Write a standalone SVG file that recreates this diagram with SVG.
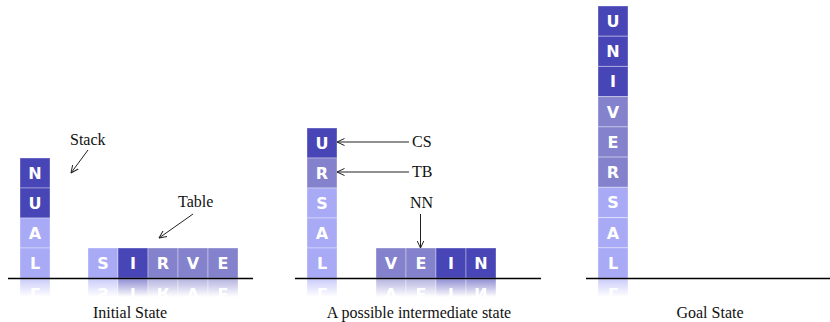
<svg xmlns="http://www.w3.org/2000/svg" xmlns:xlink="http://www.w3.org/1999/xlink" width="830" height="322" viewBox="0 0 830 322">
<style>
.d{fill:#4845b6}
.m{fill:#8482cc}
.l{fill:#a8aaf6}
.c{stroke:#ffffff;stroke-opacity:0.35;stroke-width:1}
.t{font-family:"DejaVu Sans",Verdana,sans-serif;font-weight:bold;font-size:16px;fill:#ffffff;text-anchor:middle}
.lbl{font-family:"Liberation Serif","Times New Roman",serif;font-size:16px;fill:#111111}
.mid{text-anchor:middle}
.base{stroke:#000000;stroke-width:1.6}
.arr{stroke:#222222;stroke-width:1;fill:none;marker-end:url(#ah)}
</style>
<defs>
<marker id="ah" viewBox="0 0 8 8" refX="7.5" refY="4" markerWidth="8" markerHeight="8" markerUnits="userSpaceOnUse" orient="auto">
<path d="M0,0.5 L7.5,4 L0,7.5" fill="none" stroke="#222222" stroke-width="1"/>
</marker>
<linearGradient id="fg" x1="0" y1="0" x2="0" y2="1">
<stop offset="0" stop-color="#ffffff" stop-opacity="0.6"/>
<stop offset="1" stop-color="#ffffff" stop-opacity="0"/>
</linearGradient>
<mask id="fade" maskUnits="userSpaceOnUse" x="0" y="278" width="830" height="22">
<rect x="0" y="279" width="830" height="18" fill="url(#fg)"/>
</mask>
</defs>

<g id="initial-stack">
<g id="i-N"><rect class="d c" x="20" y="158" width="30" height="30"/><text class="t" x="35" y="179">N</text></g>
<g id="i-U"><rect class="d c" x="20" y="188" width="30" height="30"/><text class="t" x="35" y="209">U</text></g>
<g id="i-A"><rect class="l c" x="20" y="218" width="30" height="30"/><text class="t" x="35" y="239">A</text></g>
<g id="i-L"><rect class="l c" x="20" y="248" width="30" height="30"/><text class="t" x="35" y="269">L</text></g>
</g>
<g id="initial-table">
<g id="i-S"><rect class="l c" x="88" y="248" width="30" height="30"/><text class="t" x="103" y="269">S</text></g>
<g id="i-I"><rect class="d c" x="118" y="248" width="30" height="30"/><text class="t" x="133" y="269">I</text></g>
<g id="i-R"><rect class="m c" x="148" y="248" width="30" height="30"/><text class="t" x="163" y="269">R</text></g>
<g id="i-V"><rect class="m c" x="178" y="248" width="30" height="30"/><text class="t" x="193" y="269">V</text></g>
<g id="i-E"><rect class="m c" x="208" y="248" width="30" height="30"/><text class="t" x="223" y="269">E</text></g>
</g>

<g id="mid-stack">
<g id="m-U"><rect class="d c" x="307" y="128" width="30" height="30"/><text class="t" x="322" y="149">U</text></g>
<g id="m-R"><rect class="m c" x="307" y="158" width="30" height="30"/><text class="t" x="322" y="179">R</text></g>
<g id="m-S"><rect class="l c" x="307" y="188" width="30" height="30"/><text class="t" x="322" y="209">S</text></g>
<g id="m-A"><rect class="l c" x="307" y="218" width="30" height="30"/><text class="t" x="322" y="239">A</text></g>
<g id="m-L"><rect class="l c" x="307" y="248" width="30" height="30"/><text class="t" x="322" y="269">L</text></g>
</g>
<g id="mid-table">
<g id="m-V"><rect class="m c" x="376" y="248" width="30" height="30"/><text class="t" x="391" y="269">V</text></g>
<g id="m-E"><rect class="m c" x="406" y="248" width="30" height="30"/><text class="t" x="421" y="269">E</text></g>
<g id="m-I"><rect class="d c" x="436" y="248" width="30" height="30"/><text class="t" x="451" y="269">I</text></g>
<g id="m-N"><rect class="d c" x="466" y="248" width="30" height="30"/><text class="t" x="481" y="269">N</text></g>
</g>

<g id="goal-stack">
<g id="g-U"><rect class="d c" x="598" y="6" width="30" height="30.2"/><text class="t" x="613" y="27">U</text></g>
<g id="g-N"><rect class="d c" x="598" y="36.2" width="30" height="30.2"/><text class="t" x="613" y="57.2">N</text></g>
<g id="g-I"><rect class="d c" x="598" y="66.4" width="30" height="30.2"/><text class="t" x="613" y="87.4">I</text></g>
<g id="g-V"><rect class="m c" x="598" y="96.7" width="30" height="30.2"/><text class="t" x="613" y="117.7">V</text></g>
<g id="g-E"><rect class="m c" x="598" y="126.9" width="30" height="30.2"/><text class="t" x="613" y="147.9">E</text></g>
<g id="g-R"><rect class="m c" x="598" y="157.1" width="30" height="30.2"/><text class="t" x="613" y="178.1">R</text></g>
<g id="g-S"><rect class="l c" x="598" y="187.3" width="30" height="30.2"/><text class="t" x="613" y="208.3">S</text></g>
<g id="g-A"><rect class="l c" x="598" y="217.6" width="30" height="30.2"/><text class="t" x="613" y="238.6">A</text></g>
<g id="g-L"><rect class="l c" x="598" y="247.8" width="30" height="30.2"/><text class="t" x="613" y="268.8">L</text></g>
</g>

<g id="reflections" mask="url(#fade)">
<g transform="translate(0,557) scale(1,-1)">
<use xlink:href="#i-L"/><use xlink:href="#initial-table"/>
<use xlink:href="#m-L"/><use xlink:href="#mid-table"/>
<use xlink:href="#g-L"/>
</g>
</g>

<g id="baselines">
<line class="base" x1="8" y1="278.5" x2="253" y2="278.5"/>
<line class="base" x1="295" y1="278.5" x2="541" y2="278.5"/>
<line class="base" x1="586" y1="278.5" x2="830" y2="278.5"/>
</g>

<g id="connectors">
<line class="arr" x1="88" y1="150" x2="71" y2="173"/>
<line class="arr" x1="193" y1="214" x2="159" y2="238"/>
<line class="arr" x1="409" y1="142" x2="337" y2="142"/>
<line class="arr" x1="409" y1="172" x2="337" y2="172"/>
<line class="arr" x1="420.5" y1="214" x2="420.5" y2="248"/>
</g>

<g id="labels">
<text class="lbl" x="70" y="145">Stack</text>
<text class="lbl" x="178" y="207">Table</text>
<text class="lbl" x="412" y="147">CS</text>
<text class="lbl" x="412" y="177">TB</text>
<text class="lbl" x="410" y="208">NN</text>
<text class="lbl mid" x="130" y="318">Initial State</text>
<text class="lbl mid" x="419" y="318">A possible intermediate state</text>
<text class="lbl mid" x="710" y="318">Goal State</text>
</g>
</svg>
